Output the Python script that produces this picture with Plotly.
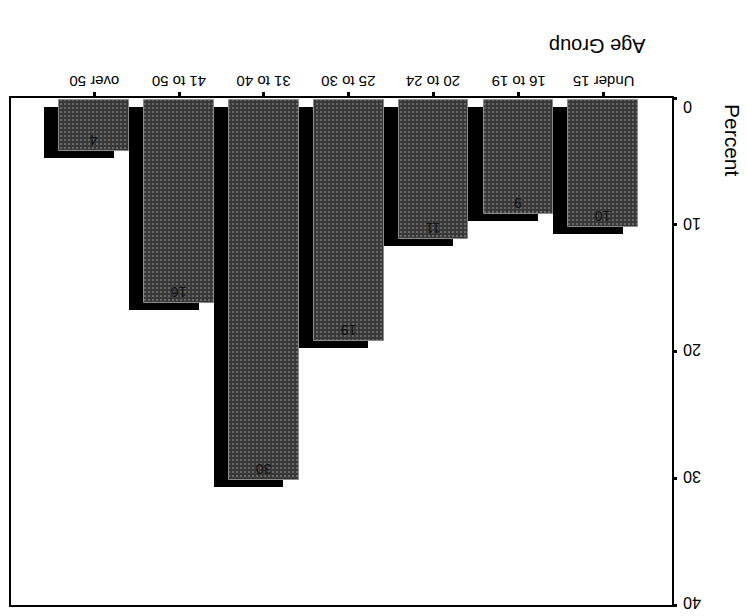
import plotly.graph_objects as go

# Age-group distribution (percent), printed upside down as in the scanned page
age_groups = ["Under 15", "16 to 19", "20 to 24", "25 to 30", "31 to 40", "41 to 50", "over 50"]
percent = [10, 9, 11, 19, 30, 16, 4]
y_ticks = [0, 10, 20, 30, 40]

FONT = "Liberation Sans, Arial, sans-serif"
BAR_W = 0.82          # bar width in category units
SHADOW_SHIFT = 0.18   # horizontal displacement of the drop shadow
SHADOW_DROP = 0.7     # vertical displacement of the drop shadow (percent units)

idx = list(range(len(age_groups)))

fig = go.Figure()

# black drop shadow behind each bar
fig.add_trace(go.Bar(
    x=idx, y=percent, base=SHADOW_DROP,
    width=BAR_W, offset=-BAR_W / 2 + SHADOW_SHIFT,
    marker=dict(color="#000000", line=dict(width=0)),
    hoverinfo="skip", showlegend=False,
))

# speckled grey front bars with value labels
fig.add_trace(go.Bar(
    x=idx, y=percent, base=0.15,
    width=BAR_W, offset=-BAR_W / 2,
    marker=dict(
        color="#3a3a3a",
        line=dict(color="#8a8a8a", width=1),
        pattern=dict(shape=".", fgcolor="#b0b0b0", bgcolor="#383838",
                     size=4, solidity=0.22, fillmode="overlay"),
    ),
    text=[str(v) for v in percent],
    textposition="inside", insidetextanchor="end",
    textangle=180, constraintext="none",
    textfont=dict(family=FONT, size=14, color="#111111"),
    showlegend=False,
))

annotations = []

# upside-down category labels above the top axis
for i, name in zip(idx, age_groups):
    annotations.append(dict(
        text=name, textangle=180, xref="x", yref="paper", x=i, y=1.0,
        yshift=16, xanchor="center", yanchor="middle", showarrow=False,
        font=dict(family=FONT, size=15),
    ))

# upside-down value-axis labels to the right of the axis
for t in y_ticks:
    annotations.append(dict(
        text=str(t), textangle=180, xref="paper", yref="y", x=1.0, y=t,
        xshift=9, yshift=-9 if t == 0 else 2,
        xanchor="left", yanchor="middle", showarrow=False,
        font=dict(family=FONT, size=16),
    ))

# axis titles
annotations.append(dict(
    text="Age Group", textangle=180, xref="paper", yref="paper",
    x=0.887, y=1.0, yshift=52, xanchor="center", yanchor="middle",
    showarrow=False, font=dict(family=FONT, size=20),
))
annotations.append(dict(
    text="Percent", textangle=90, xref="paper", yref="paper",
    x=1.0, xshift=61, y=1.0, yshift=-42, xanchor="center", yanchor="middle",
    showarrow=False, font=dict(family=FONT, size=21),
))

fig.update_layout(
    width=747, height=616, autosize=False,
    margin=dict(l=10, r=75, t=98, b=9),
    paper_bgcolor="white", plot_bgcolor="white",
    barmode="overlay", bargap=0,
    font=dict(family=FONT, size=15, color="#000000"),
    xaxis=dict(
        side="top", tickmode="array", tickvals=idx,
        range=[6.98, -0.81], showticklabels=False,
        showline=True, linecolor="#000000", linewidth=2, mirror=True,
        ticks="outside", ticklen=4, tickwidth=3, tickcolor="#000000",
        showgrid=False, zeroline=False,
    ),
    yaxis=dict(
        side="right", range=[40, 0], tickmode="array", tickvals=y_ticks,
        showticklabels=False,
        showline=True, linecolor="#000000", linewidth=2, mirror=True,
        ticks="outside", ticklen=3, tickwidth=3, tickcolor="#000000",
        showgrid=False, zeroline=False,
    ),
    annotations=annotations,
)

fig.write_html("out.html")
